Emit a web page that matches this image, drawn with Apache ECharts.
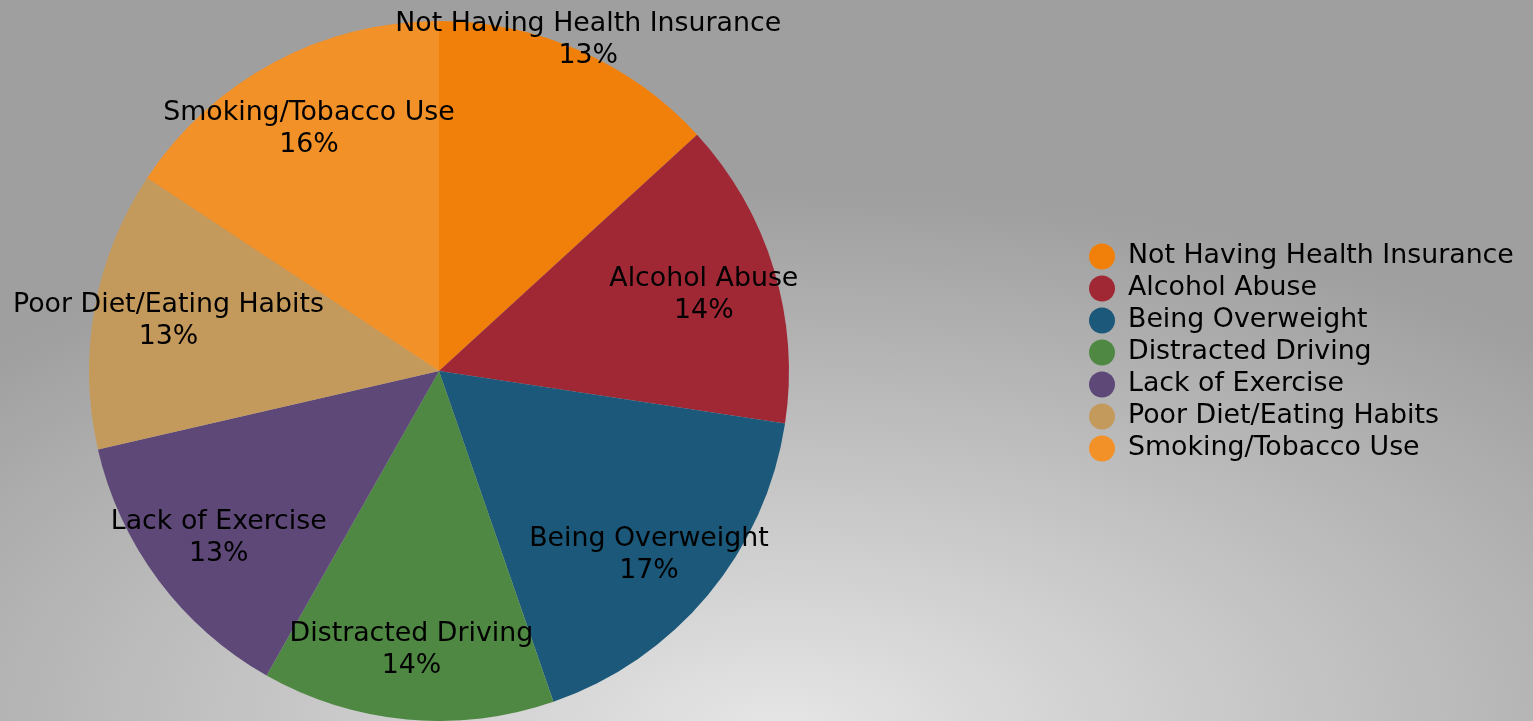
<!DOCTYPE html>
<html>
<head>
<meta charset="utf-8">
<script src="https://cdn.jsdelivr.net/npm/echarts@6/dist/echarts.min.js"></script>
<style>
  html, body { margin: 0; padding: 0; }
  body {
    background: radial-gradient(ellipse 1100px 540px at 780px 730px, #e6e6e6 0%, #9f9f9f 100%);
  }
  #chart { width: 1533px; height: 721px; }
</style>
</head>
<body>
<div id="chart"></div>
<script>
// 各项占比
const categories = [
  'Not Having Health Insurance',
  'Alcohol Abuse',
  'Being Overweight',
  'Distracted Driving',
  'Lack of Exercise',
  'Poor Diet/Eating Habits',
  'Smoking/Tobacco Use'
];
const shares = [13.2, 14.2, 17.3, 13.5, 13.2, 12.9, 15.7];
const colors = ['#F0800A', '#A02835', '#1B587A', '#4E8842', '#5E4878', '#C49A5C', '#F39129'];

const font = "'DejaVu Sans', Verdana, sans-serif";
// 标签微调 [dx, dy]
const labelNudge = [[36, -74], [-4, 6], [-6, 4], [-2, -1], [5, -1], [6, 0], [3, 6]];

const pieData = categories.map((name, i) => ({
  name: name,
  value: shares[i],
  itemStyle: { color: colors[i] }
}));

const chart = echarts.init(document.getElementById('chart'), null, { renderer: 'canvas' });

chart.setOption({
  backgroundColor: 'transparent',
  animation: false,
  legend: {
    orient: 'vertical',
    left: 1084,
    top: 238,
    icon: 'circle',
    itemWidth: 26,
    itemHeight: 26,
    itemGap: 5,
    data: categories,
    textStyle: { color: '#000', fontSize: 26.8, lineHeight: 26, fontFamily: font, padding: [0, 0, 0, 8] }
  },
  series: [
    {
      name: 'share',
      type: 'pie',
      center: [439, 371],
      radius: [0, 350],
      startAngle: 90,
      clockwise: true,
      label: { show: false },
      labelLine: { show: false },
      emphasis: { scale: false },
      data: pieData
    },
    {
      // 透明的外扩饼图，只用来放置扇区内的标签
      name: 'labels',
      type: 'pie',
      center: [439, 371],
      radius: [0, 556],
      startAngle: 90,
      clockwise: true,
      silent: true,
      itemStyle: { color: 'transparent' },
      labelLine: { show: false },
      label: {
        show: true,
        position: 'inside',
        color: '#000',
        fontSize: 26.8,
        lineHeight: 32,
        fontFamily: font,
        formatter: p => p.name + '\n' + p.percent.toFixed(0) + '%'
      },
      labelLayout: p => ({ dx: labelNudge[p.dataIndex][0], dy: labelNudge[p.dataIndex][1] }),
      data: categories.map((name, i) => ({ name: name, value: shares[i] }))
    }
  ]
});
</script>
</body>
</html>
